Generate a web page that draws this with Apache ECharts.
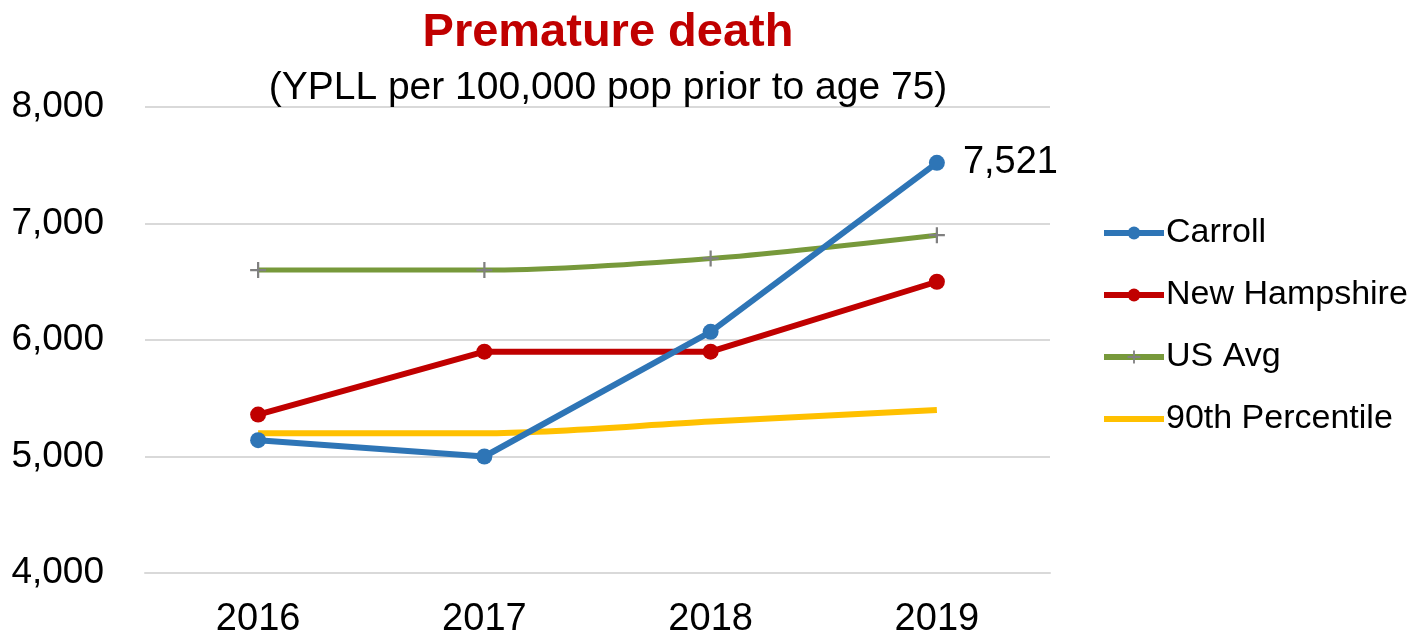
<!DOCTYPE html>
<html>
<head>
<meta charset="utf-8">
<script src="https://cdn.jsdelivr.net/npm/echarts@6/dist/echarts.min.js"></script>
<style>html,body{margin:0;padding:0;background:#fff;}#c{width:1428px;height:639px;}</style>
</head>
<body>
<div id="c"></div>
<script>
const years = ['2016', '2017', '2018', '2019'];
const carroll = [5140, 5000, 6070, 7521];
const newHampshire = [5360, 5900, 5900, 6500];
const usAvg = [6600, 6600, 6700, 6900];
const percentile90 = [5200, 5200, 5300, 5400];
const yTicks = { min: 4000, max: 8000, interval: 1000 };

const FONT = 'Liberation Sans, Arial, sans-serif';
const plusPath = 'path://M4.3,0H5.7V4.3H10V5.7H5.7V10H4.3V5.7H0V4.3H4.3Z';

const chart = echarts.init(document.getElementById('c'));
chart.setOption({
  animation: false,
  backgroundColor: '#ffffff',
  title: [
    { text: 'Premature death', left: 603, textAlign: 'center', top: 5,
      textStyle: { fontFamily: FONT, fontSize: 47, fontWeight: 'bold', color: '#C00000' } },
    { text: '(YPLL per 100,000 pop prior to age 75)', left: 603, textAlign: 'center', top: 64,
      textStyle: { fontFamily: FONT, fontSize: 39, fontWeight: 'normal', color: '#000000' } }
  ],
  legend: {
    orient: 'vertical', left: 1096, top: 211,
    itemWidth: 60, itemHeight: 16, itemGap: 28,
    lineStyle: { width: 6 },
    textStyle: { fontFamily: FONT, fontSize: 34, color: '#000', padding: [0, 0, 0, -3] },
    data: ['Carroll', 'New Hampshire', 'US Avg',
      { name: '90th Percentile', itemStyle: { color: 'rgba(0,0,0,0)', borderWidth: 0 } }]
  },
  grid: { left: 145, right: 378, top: 107, bottom: 66 },
  xAxis: {
    type: 'category', data: years, boundaryGap: true,
    axisLine: { show: true, lineStyle: { color: '#d9d9d9', width: 2 } },
    axisTick: { show: false },
    axisLabel: { fontFamily: FONT, fontSize: 38, color: '#000', margin: 28 }
  },
  yAxis: {
    type: 'value', min: yTicks.min, max: yTicks.max, interval: yTicks.interval,
    axisLine: { show: false }, axisTick: { show: false },
    splitLine: { lineStyle: { color: '#d9d9d9', width: 2 } },
    axisLabel: { fontFamily: FONT, fontSize: 37, color: '#000', margin: 41,
      formatter: v => v.toLocaleString('en-US') }
  },
  series: [
    { name: 'Carroll', type: 'line', z: 5,
      data: carroll.map((v, i) => i === carroll.length - 1 ? {
        value: v,
        label: { show: true, position: 'right', distance: 18, fontFamily: FONT, fontSize: 38, color: '#000',
          formatter: p => p.value.toLocaleString('en-US') }
      } : v),
      symbol: 'circle', symbolSize: 16,
      lineStyle: { color: '#2E75B6', width: 6 }, itemStyle: { color: '#2E75B6' } },
    { name: 'New Hampshire', type: 'line', z: 4, data: newHampshire,
      symbol: 'circle', symbolSize: 16,
      lineStyle: { color: '#C00000', width: 6 }, itemStyle: { color: '#C00000' } },
    { name: 'US Avg', type: 'line', z: 3, data: usAvg, smooth: 0.3,
      symbol: plusPath, symbolSize: 16,
      lineStyle: { color: '#77993B', width: 5 }, itemStyle: { color: '#808080' } },
    { name: '90th Percentile', type: 'line', z: 2, data: percentile90, smooth: 0.3,
      symbol: 'none', showSymbol: false,
      lineStyle: { color: '#FFC000', width: 6 }, itemStyle: { color: '#FFC000' } }
  ]
});
</script>
</body>
</html>
